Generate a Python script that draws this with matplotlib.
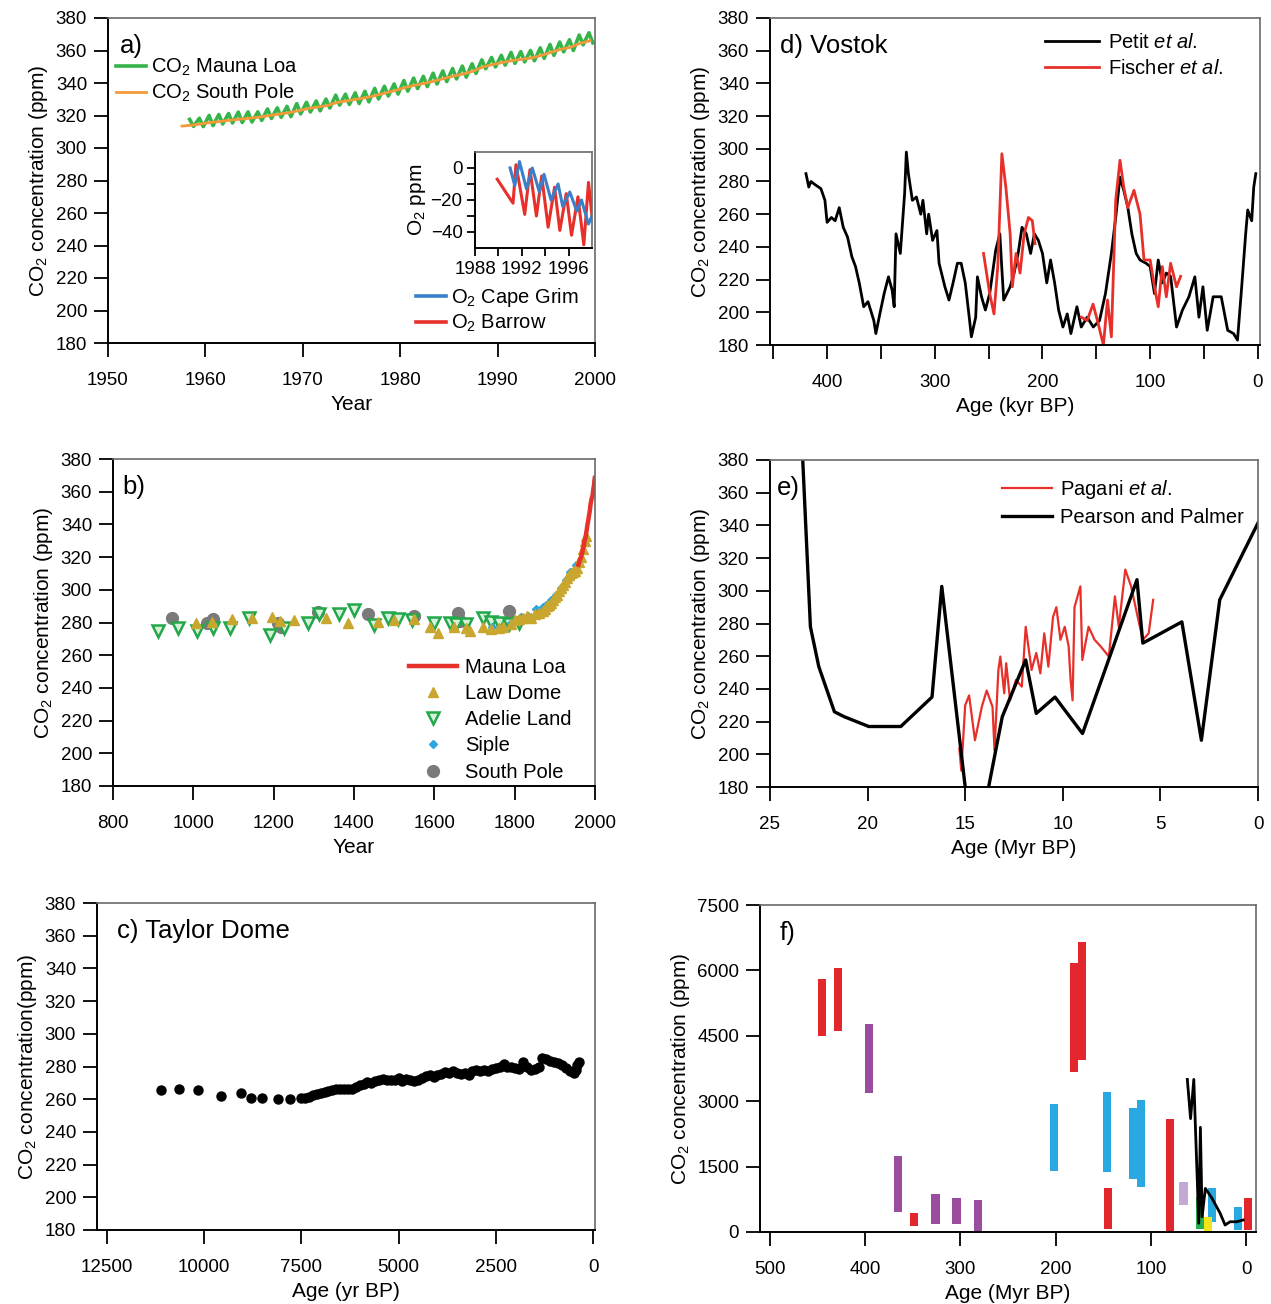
"""Six-panel CO2 record figure (instrumental, ice cores, proxies)."""

import matplotlib.pyplot as plt
from matplotlib.lines import Line2D

plt.rcParams["font.family"] = ["Liberation Sans", "DejaVu Sans"]
plt.rcParams["mathtext.fontset"] = "custom"
plt.rcParams["mathtext.rm"] = "Liberation Sans"
plt.rcParams["mathtext.it"] = "Liberation Sans:italic"
plt.rcParams["mathtext.bf"] = "Liberation Sans:bold"

W, H = 1271, 1304

# ---- panel a: Mauna Loa / South Pole CO2, O2 inset ----
ml_years = list(range(1958, 2000))
ml_peak = [317.6, 318.3, 320.0, 320.6, 321.2, 322.1, 322.2, 322.2, 324.0, 324.7,
           325.6, 327.3, 328.1, 328.9, 330.1, 332.5, 333.1, 333.9, 334.9, 336.7,
           338.0, 339.4, 341.5, 343.0, 344.1, 346.0, 347.4, 348.9, 350.4, 351.8,
           354.2, 355.7, 357.0, 358.8, 359.3, 360.0, 361.6, 363.7, 365.2, 366.6,
           369.5, 370.9]
ml_trough = [313.3, 313.2, 313.8, 314.8, 315.4, 315.7, 316.0, 317.0, 318.2, 318.9,
             319.3, 321.0, 322.2, 322.9, 324.6, 326.4, 326.8, 327.4, 328.4, 330.2,
             332.0, 333.2, 335.0, 336.6, 337.8, 339.4, 340.9, 342.5, 343.6, 345.9,
             348.8, 349.9, 351.0, 352.1, 353.0, 353.7, 355.2, 357.0, 359.2, 360.0,
             363.5, 364.7]
ml_annual = [315.3, 316.0, 316.9, 317.6, 318.5, 319.0, 319.6, 320.0, 321.4, 322.2,
             323.0, 324.6, 325.7, 326.3, 327.5, 329.7, 330.2, 331.1, 332.0, 333.8,
             335.4, 336.8, 338.7, 340.1, 341.4, 343.0, 344.6, 346.0, 347.4, 349.2,
             351.6, 353.1, 354.4, 355.6, 356.4, 357.1, 358.8, 360.8, 362.6, 363.7,
             366.7, 368.4]
sp_years = [1957.6] + [y + 0.5 for y in range(1958, 2000)]
sp_co2 = [313.5, 314.0, 314.8, 315.7, 316.3, 317.1, 317.7, 318.3, 319.0, 319.9,
          320.8, 321.6, 322.9, 324.2, 325.2, 326.1, 328.0, 329.0, 330.0, 331.0,
          332.3, 333.9, 335.4, 337.2, 338.6, 339.8, 341.2, 342.8, 344.3, 345.6,
          347.3, 349.9, 351.4, 352.6, 353.8, 354.6, 355.4, 357.0, 358.9, 360.8,
          362.0, 364.5, 366.0]

barrow_year = [1989.9, 1991.25, 1991.5, 1992.25, 1992.7, 1993.25, 1993.7, 1994.25,
               1994.8, 1995.25, 1995.8, 1996.25, 1996.8, 1997.3, 1997.7, 1998.0]
barrow_o2 = [-7, -22, 2, -29, -1, -30, -5, -37, -12, -39, -16, -42, -18, -48, -9, -30]
grim_year = [1991.0, 1991.4, 1991.8, 1992.4, 1992.9, 1993.5, 1993.9, 1994.5, 1995.1,
             1995.5, 1996.1, 1996.7, 1997.1, 1997.7, 1998.0]
grim_o2 = [0, -11, 4, -13, 0, -15, -4, -20, -10, -24, -15, -27, -20, -35, -30]

# ---- panel b: last millennium ice cores ----
law_year = [1006, 1046, 1096, 1146, 1196, 1216, 1250, 1330, 1386, 1460, 1500, 1550,
            1590, 1610, 1650, 1680, 1690, 1720, 1740, 1760, 1770, 1790, 1800, 1810,
            1820, 1830, 1840, 1850, 1860, 1870, 1875, 1880, 1885, 1890, 1895, 1900,
            1905, 1910, 1915, 1920, 1925, 1930, 1935, 1940, 1945, 1950, 1955, 1960,
            1965, 1970, 1975, 1978]
law_co2 = [279.4, 280.3, 282.0, 283.0, 283.2, 281.0, 281.5, 283.0, 280.0, 280.5,
           281.5, 282.0, 277.0, 273.5, 277.0, 276.5, 275.0, 277.0, 276.0, 276.5,
           277.0, 279.0, 281.5, 282.0, 283.0, 284.0, 283.0, 285.0, 286.0, 287.0,
           288.5, 290.0, 290.5, 292.0, 294.0, 295.5, 297.0, 299.0, 301.0, 303.0,
           305.0, 307.0, 309.0, 310.0, 311.0, 311.5, 313.5, 317.0, 320.0, 325.0,
           330.0, 333.0]
adelie_year = [912, 962, 1010, 1050, 1092, 1138, 1192, 1225, 1285, 1313, 1363, 1400,
               1450, 1485, 1510, 1545, 1600, 1640, 1655, 1680, 1720, 1740, 1760,
               1785, 1810]
adelie_co2 = [275.0, 276.5, 275.0, 276.5, 276.5, 283.0, 272.5, 276.5, 279.5, 285.5,
              285.5, 287.5, 278.5, 283.0, 282.0, 281.5, 280.0, 280.0, 279.0, 279.0,
              283.0, 280.5, 280.0, 279.0, 279.5]
siple_year = [1744, 1764, 1791, 1816, 1834, 1854, 1870, 1879, 1891, 1903, 1915,
              1927, 1939, 1953]
siple_co2 = [277.5, 276.5, 279.5, 283.5, 284.0, 288.0, 289.5, 291.0, 294.0, 297.0,
             301.0, 306.0, 311.0, 315.0]
spole_year = [947, 1035, 1050, 1210, 1218, 1310, 1435, 1550, 1660, 1665, 1785]
spole_co2 = [283.0, 280.0, 282.0, 280.0, 277.0, 286.5, 285.5, 284.0, 286.0, 281.0, 287.0]

# ---- panel c: Taylor Dome Holocene ----
taylor_age = [11100, 10650, 10150, 9550, 9050, 8800, 8500, 8100, 7800,
              7500, 7400, 7300, 7200, 7100, 7000, 6900, 6800, 6700, 6600, 6500,
              6400, 6300, 6200, 6100, 6000, 5900, 5800, 5700, 5600, 5500, 5400,
              5300, 5200, 5100, 5000, 4900, 4800, 4700, 4600, 4500, 4400, 4300,
              4200, 4100, 4000, 3900, 3800, 3700, 3600, 3500, 3400, 3300, 3200,
              3100, 3000, 2900, 2800, 2700, 2600, 2500, 2400, 2300, 2200, 2100,
              2000, 1900, 1800, 1700, 1600, 1500, 1400, 1300, 1200, 1100, 1000,
              900, 800, 700, 600, 500, 450, 400, 350]
taylor_co2 = [265.5, 266.5, 265.5, 262.0, 263.5, 261.0, 261.0, 260.0, 260.0,
              261.0, 260.5, 261.5, 262.5, 263.0, 264.0, 264.5, 265.0, 265.5, 266.0,
              266.0, 266.5, 266.0, 266.5, 267.5, 268.5, 269.5, 270.5, 270.0, 271.0,
              271.5, 272.5, 272.0, 272.0, 271.5, 273.0, 271.0, 272.5, 272.0, 271.0,
              272.0, 273.0, 274.0, 274.5, 273.5, 275.0, 275.5, 276.5, 276.0, 277.0,
              276.0, 275.5, 276.0, 275.0, 277.0, 278.0, 277.5, 278.0, 277.0, 278.5,
              279.0, 280.0, 281.5, 280.0, 279.5, 279.0, 278.5, 283.0, 279.5, 278.0,
              278.5, 279.5, 285.0, 284.5, 283.5, 283.0, 282.0, 281.0, 279.0, 277.0,
              276.0, 278.0, 281.0, 283.0]

# ---- panel d: Vostok ----
vostok_age = [419.6, 417, 415, 411, 405.7, 402, 400, 396, 392.5, 388.7,
              385, 381, 377, 373.6, 370, 366, 362, 356.6, 354.7, 351,
              347, 343, 339.6, 337.7, 336, 332, 328, 326.4, 324.5, 320.8,
              317, 313, 311, 307.5, 305.7, 302, 298, 296, 290.6, 286.8,
              283, 279, 275.5, 271.7, 268, 266, 262, 260.4, 256.6, 253,
              249, 243.4, 239.6, 236, 230, 226.4, 222.6, 219, 215, 211,
              207.5, 203.8, 200, 196, 192.5, 188.7, 185, 181, 177, 173.6,
              168, 164, 158.5, 152.8, 147, 141.5, 136, 132, 128, 124.5,
              120.8, 117, 113, 109.4, 103.8, 100, 96, 92.5, 88.7, 85,
              81, 75.5, 70, 64, 58.5, 54.7, 51, 47, 41.5, 34,
              28, 22.6, 18.9, 15, 11.3, 9.4, 5.7, 3.8, 1.9]
vostok_co2 = [284.8, 276.6, 280, 278, 275.6, 268.5, 255, 258, 256, 264,
              252, 246, 234, 228, 217.6, 203.4, 206.5, 195, 187, 199,
              211.5, 221.7, 213.6, 203.4, 248, 236, 272.6, 298, 284.8, 268.5,
              270.5, 260, 268.5, 248, 260, 244, 250, 230, 215.6, 207.5,
              218, 230, 230, 218, 197, 185, 197, 221.7, 209.5, 201.4,
              211.5, 238, 248, 207.5, 215.6, 223.8, 236, 252, 248, 236,
              248, 244, 236, 218, 232, 218, 201.4, 191, 199, 187,
              203.4, 191, 197, 191, 195, 211.5, 236, 258, 282.7, 274.6,
              264.4, 248, 236, 232, 230, 228, 211.5, 232, 218, 224,
              222, 191, 201.4, 209.5, 221.7, 197, 215.6, 189, 209.5, 209.5,
              189, 187, 183, 215.6, 248, 262.6, 256, 276.6, 284.8]
fischer1_age = [254.7, 249, 245, 241.5, 237.7, 234, 230, 228, 224.5, 220.8, 217,
                213, 209.4, 207]
fischer1_co2 = [236, 211.5, 199, 228, 297, 276.6, 248, 215.6, 236, 224, 248, 258,
                256, 242]
fischer2_age = [164, 158.5, 153, 149, 143.4, 139.6, 136, 132, 128, 124.5, 120.8,
                115, 109.4, 105.7, 100, 96, 92.5, 88.7, 85, 81, 75.5, 71.7]
fischer2_co2 = [197, 195, 205, 195, 180, 207.5, 185, 268.5, 293, 276.6, 264,
                274.6, 260, 232, 232, 215.6, 203.4, 228, 209.5, 230, 215.6, 222]

# ---- panel e: Miocene proxies ----
pp_age = [23.4, 22.93, 22.5, 21.7, 21.2, 19.94, 18.3, 16.7, 16.2, 15.0, 14.4,
          13.8, 13.1, 11.9, 11.36, 10.4, 8.99, 6.2, 5.9, 3.9, 2.9, 1.96, 0]
pp_co2 = [400, 278, 253.6, 226, 223, 217, 217, 235, 302.7, 180, 160,
          180, 223, 257.7, 225, 235, 212.7, 306.8, 268, 281, 208.6, 294.5, 341.5]
pagani_age = [15.3, 15.2, 15.0, 14.8, 14.5, 14.15, 13.9, 13.6, 13.5, 13.3, 13.2,
              13.0, 12.9, 12.7, 12.4, 12.1, 11.9, 11.6, 11.36, 11.15, 10.95, 10.74,
              10.5, 10.33, 10.12, 9.9, 9.7, 9.6, 9.5, 9.4, 9.1, 9.0, 8.68, 8.37,
              8.06, 7.64, 7.33, 7.13, 6.8, 6.5, 6.2, 5.9, 5.6, 5.37]
pagani_co2 = [203.5, 190, 230, 236, 208.6, 229, 239, 229, 202.5, 251.6, 259.8,
              237.3, 255.7, 233, 245.5, 241.4, 278, 251.6, 262, 249.5, 274, 253.6,
              284, 290, 270, 278, 266, 245.5, 233, 290, 302.7, 257.7, 278, 270,
              266, 259.8, 296.6, 278, 313, 302.7, 286, 270, 274, 294.5]

# ---- panel f: Phanerozoic proxy ranges ----
f_age = [445, 428, 396, 365, 349, 326, 304, 281, 202, 181, 172, 146, 145, 119,
         111, 80, 66, 49, 36, 40, 8.5, -2]
f_low = [4500, 4600, 3180, 460, 130, 190, 190, 0, 1400, 3670, 3940, 1380, 80,
         1220, 1030, 0, 610, 80, 230, 0, 40, 40]
f_high = [5800, 6050, 4780, 1740, 440, 880, 770, 730, 2930, 6160, 6660, 3200,
          1000, 2850, 3020, 2600, 1150, 800, 1000, 340, 570, 770]
f_kind = ["red", "red", "purple", "purple", "red", "purple", "purple", "purple",
          "blue", "red", "red", "blue", "red", "blue", "blue", "red", "lilac",
          "green", "blue", "yellow", "blue", "red"]
cenozoic_age = [62, 58.6, 55.2, 53.5, 50, 48.3, 46.5, 43.1, 36.2, 27.6, 22.4,
                17.2, 10.3, 3.5]
cenozoic_co2 = [3500, 2600, 3500, 2400, 200, 2400, 350, 1000, 775, 430, 160,
                235, 235, 275]

KIND_COLORS = {"red": "#e3262b", "purple": "#9a4c9f", "blue": "#29a9e1",
               "lilac": "#c3a9d6", "green": "#22b14c", "yellow": "#f2e31d"}

TICK_FS = 13.5
LABEL_FS = 15
LEG_FS = 14.5
PANEL_FS = 18.5
CO2_LABEL = "CO$_2$ concentration (ppm)"


def px_axes(fig, left, top, right, bottom):
    return fig.add_axes([left / W, 1 - bottom / H, (right - left) / W, (bottom - top) / H])


def style(ax, length=10, xpad=11, ypad=5):
    for side in ("left", "bottom"):
        ax.spines[side].set_linewidth(1.4)
        ax.spines[side].set_color("black")
    for side in ("top", "right"):
        ax.spines[side].set_linewidth(1.2)
        ax.spines[side].set_color("#6a6a6a")
    ax.tick_params(which="both", direction="out", length=length, width=1.3,
                   labelsize=TICK_FS, top=False, right=False)
    ax.tick_params(axis="x", pad=xpad)
    ax.tick_params(axis="y", pad=ypad)


fig = plt.figure(figsize=(W / 100, H / 100), dpi=100)

# panel a
ax = px_axes(fig, 108, 18, 595, 343)
ml_x, ml_y = [], []
for yr, pk, tr in zip(ml_years, ml_peak, ml_trough):
    ml_x += [yr + 0.38, yr + 0.78]
    ml_y += [pk, tr]
ax.plot(ml_x, ml_y, color="#35b44a", lw=2.6, label="CO$_2$ Mauna Loa")
ax.plot(sp_years, sp_co2, color="#f39a3a", lw=2.0, label="CO$_2$ South Pole")
ax.set_xlim(1950, 2000)
ax.set_ylim(180, 380)
ax.set_xticks(range(1950, 2001, 10))
ax.set_yticks(range(180, 381, 20))
ax.set_xlabel("Year", fontsize=LABEL_FS)
ax.set_ylabel(CO2_LABEL, fontsize=LABEL_FS)
style(ax)
ax.text(0.025, 0.915, "a)", transform=ax.transAxes, fontsize=PANEL_FS, va="center")
leg = ax.legend(loc="upper left", bbox_to_anchor=(0.0, 0.905), frameon=False,
                fontsize=LEG_FS, handlelength=1.5, handletextpad=0.25,
                labelspacing=0.18, borderaxespad=0.2, borderpad=0.2)
ax.add_artist(leg)
o2_handles = [Line2D([], [], color="#3a7fc8", lw=2.6),
              Line2D([], [], color="#e8302a", lw=2.6)]
ax.legend(o2_handles, ["O$_2$ Cape Grim", "O$_2$ Barrow"], loc="upper left",
          bbox_to_anchor=(0.615, 0.2), frameon=False, fontsize=LEG_FS,
          handlelength=1.5, handletextpad=0.25, labelspacing=0.2,
          borderaxespad=0.2, borderpad=0.2)

ins = px_axes(fig, 475, 152, 592, 248)
ins.plot(barrow_year, barrow_o2, color="#e8302a", lw=2.2)
ins.plot(grim_year, grim_o2, color="#3a7fc8", lw=2.2)
ins.set_xlim(1988, 1998)
ins.set_ylim(-50, 10)
ins.set_xticks([1988, 1992, 1996])
ins.set_xticks([1990, 1994], minor=True)
ins.set_yticks([0, -20, -40])
ins.set_yticks([-10, -30], minor=True)
ins.set_ylabel("O$_2$ ppm", fontsize=LABEL_FS, labelpad=2)
style(ins, length=6, xpad=3, ypad=3)

# panel b
ax = px_axes(fig, 113, 459, 595, 786)
h_sp, = ax.plot(spole_year, spole_co2, "o", ms=8.5, color="#7a7a7a", ls="none")
h_ad, = ax.plot(adelie_year, adelie_co2, "v", ms=9, mfc="#d6f0da", mec="#22a84a",
                mew=1.8, ls="none")
h_si, = ax.plot(siple_year, siple_co2, "D", ms=4.5, color="#2aa7e1", ls="none")
h_ld, = ax.plot(law_year, law_co2, "^", ms=7, color="#c9a62e", ls="none")
h_ml, = ax.plot([y + 0.5 for y in ml_years], ml_annual, color="#e8312a", lw=3.2)
ax.set_xlim(800, 2000)
ax.set_ylim(180, 380)
ax.set_xticks(range(800, 2001, 200))
ax.set_yticks(range(180, 381, 20))
ax.set_xlabel("Year", fontsize=LABEL_FS)
ax.set_ylabel(CO2_LABEL, fontsize=LABEL_FS)
style(ax)
ax.text(0.02, 0.915, "b)", transform=ax.transAxes, fontsize=PANEL_FS, va="center")
ax.legend([h_ml, h_ld, h_ad, h_si, h_sp],
          ["Mauna Loa", "Law Dome", "Adelie Land", "Siple", "South Pole"],
          loc="upper left", bbox_to_anchor=(0.597, 0.417), frameon=False,
          fontsize=LEG_FS, handlelength=2.4, handletextpad=0.4, labelspacing=0.36,
          borderaxespad=0.2, borderpad=0.2)

# panel c
ax = px_axes(fig, 97, 903, 595, 1230)
ax.plot(taylor_age, taylor_co2, "o", ms=6.5, color="black", ls="none")
ax.set_xlim(12750, -50)
ax.set_ylim(180, 380)
ax.set_xticks(range(0, 12501, 2500))
ax.set_yticks(range(180, 381, 20))
ax.set_xlabel("Age (yr BP)", fontsize=LABEL_FS)
ax.set_ylabel("CO$_2$ concentration(ppm)", fontsize=LABEL_FS)
style(ax)
ax.text(0.04, 0.915, "c) Taylor Dome", transform=ax.transAxes, fontsize=PANEL_FS,
        va="center")

# panel d
ax = px_axes(fig, 770, 18, 1260, 345)
ax.plot(vostok_age, vostok_co2, color="black", lw=2.0, label="Petit $\\it{et\\ al.}$")
ax.plot(fischer1_age, fischer1_co2, color="#e8302a", lw=2.0,
        label="Fischer $\\it{et\\ al.}$")
ax.plot(fischer2_age, fischer2_co2, color="#e8302a", lw=2.0)
ax.set_xlim(453, -2)
ax.set_ylim(180, 380)
ax.set_xticks(range(0, 451, 50))
ax.set_xticklabels(["0", "", "100", "", "200", "", "300", "", "400", ""])
ax.set_yticks(range(180, 381, 20))
ax.set_xlabel("Age (kyr BP)", fontsize=LABEL_FS)
ax.set_ylabel(CO2_LABEL, fontsize=LABEL_FS)
style(ax)
ax.text(0.02, 0.915, "d) Vostok", transform=ax.transAxes, fontsize=PANEL_FS,
        va="center")
ax.legend(loc="upper left", bbox_to_anchor=(0.545, 0.98), frameon=False,
          fontsize=LEG_FS, handlelength=2.7, handletextpad=0.4, labelspacing=0.35,
          borderaxespad=0.2, borderpad=0.2)

# panel e
ax = px_axes(fig, 770, 460, 1258, 787)
ax.plot(pagani_age, pagani_co2, color="#e8302a", lw=1.6, label="Pagani $\\it{et\\ al.}$")
ax.plot(pp_age, pp_co2, color="black", lw=2.4, label="Pearson and Palmer")
ax.set_xlim(25, 0)
ax.set_ylim(180, 380)
ax.set_xticks(range(0, 26, 5))
ax.set_yticks(range(180, 381, 20))
ax.set_xlabel("Age (Myr BP)", fontsize=LABEL_FS)
ax.set_ylabel(CO2_LABEL, fontsize=LABEL_FS)
style(ax)
ax.text(0.015, 0.915, "e)", transform=ax.transAxes, fontsize=PANEL_FS, va="center")
ax.legend(loc="upper left", bbox_to_anchor=(0.458, 0.97), frameon=False,
          fontsize=LEG_FS, handlelength=2.5, handletextpad=0.4, labelspacing=0.35,
          borderaxespad=0.2, borderpad=0.2)

# panel f
ax = px_axes(fig, 760, 905, 1256, 1232)
for age, lo, hi, kind in zip(f_age, f_low, f_high, f_kind):
    ax.bar(age, hi - lo, bottom=lo, width=8.5, color=KIND_COLORS[kind], lw=0)
ax.plot(cenozoic_age, cenozoic_co2, color="black", lw=2.0)
ax.set_xlim(510, -10)
ax.set_ylim(0, 7500)
ax.set_xticks(range(0, 501, 100))
ax.set_yticks(range(0, 7501, 1500))
ax.set_xlabel("Age (Myr BP)", fontsize=LABEL_FS)
ax.set_ylabel(CO2_LABEL, fontsize=LABEL_FS)
style(ax)
ax.text(0.04, 0.915, "f)", transform=ax.transAxes, fontsize=PANEL_FS, va="center")

fig.savefig("out.png", dpi=100)
